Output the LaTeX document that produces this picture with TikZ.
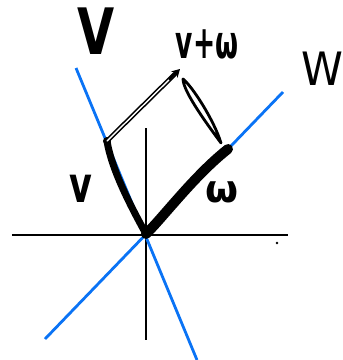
\documentclass[tikz,border=0pt]{standalone}
\usepackage{fontspec}
\setmainfont{DejaVu Sans}
\usetikzlibrary{arrows.meta,calc}
\definecolor{lineblue}{RGB}{10,115,245}
\begin{document}
\begin{tikzpicture}[x=1pt,y=-1pt,
  axis/.style={line width=2.4pt,black},
  spanline/.style={line width=2.8pt,lineblue},
  vecstroke/.style={black,line cap=round,line join=round},
  lbl/.style={inner sep=0pt,anchor=center}]
\useasboundingbox (0,0) rectangle (343,360);
% key points
\coordinate (O) at (146,234);
\coordinate (hl) at (12,235);
\coordinate (hr) at (288,235);
\coordinate (vt) at (146,128);
\coordinate (vb) at (146,340);
\coordinate (Vtop) at (76,68);
\coordinate (Vbot) at (197,360);
\coordinate (Wtop) at (283,92);
\coordinate (Wbot) at (45,339);
\coordinate (vtip) at (107,141);
\coordinate (wtip) at (228,149);
\coordinate (sumtip) at (180,69);
\coordinate (loopA) at (183,79);
\coordinate (loopB) at (221,143);
\coordinate (dot) at (277,243);
% axes
\draw[axis] (hl) -- (hr);
\draw[axis] (vt) -- (vb);
% spanning lines
\draw[spanline] (Vtop) -- (Vbot);
\draw[spanline] (Wtop) -- (Wbot);
% vectors
\draw[vecstroke,line width=7pt] (O) .. controls (134,212) and (112,172) .. (vtip);
\draw[vecstroke,line width=10pt] (O) .. controls (165,215) and (195,175) .. (wtip);
\fill (vtip) circle (4);
% v + w arrow (double stroke)
\draw[line width=1.6pt,double=white,double distance=1.4pt,line cap=round] (vtip) -- ($(vtip)!0.93!(sumtip)$);
\draw[line width=2.2pt,-{Stealth[length=8pt,width=9pt]}] ($(vtip)!0.85!(sumtip)$) -- (sumtip);
% loop stroke
\draw[vecstroke,line width=2.8pt] (loopA) .. controls (192,86) and (214,120) .. (loopB)
  .. controls (210,128) and (183,92) .. (loopA);
\fill (dot) circle (1.4);
% labels
\node[lbl,font=\bfseries\fontsize{64}{64}\selectfont,xscale=0.75] (Vlabel) at (96,31) {V};
\node[lbl,font=\fontsize{46}{46}\selectfont,xscale=0.92] (Wlabel) at (322,69) {W};
\node[lbl,font=\bfseries\fontsize{34}{34}\selectfont,xscale=0.78,yscale=1.35] (sumlabel) at (207,44) {v+ω};
\node[lbl,font=\bfseries\fontsize{50}{50}\selectfont,xscale=0.7] (vlabel) at (81,189) {v};
\node[lbl,font=\bfseries\fontsize{38}{38}\selectfont] (wlabel) at (222,192) {ω};
\end{tikzpicture}
\end{document}
